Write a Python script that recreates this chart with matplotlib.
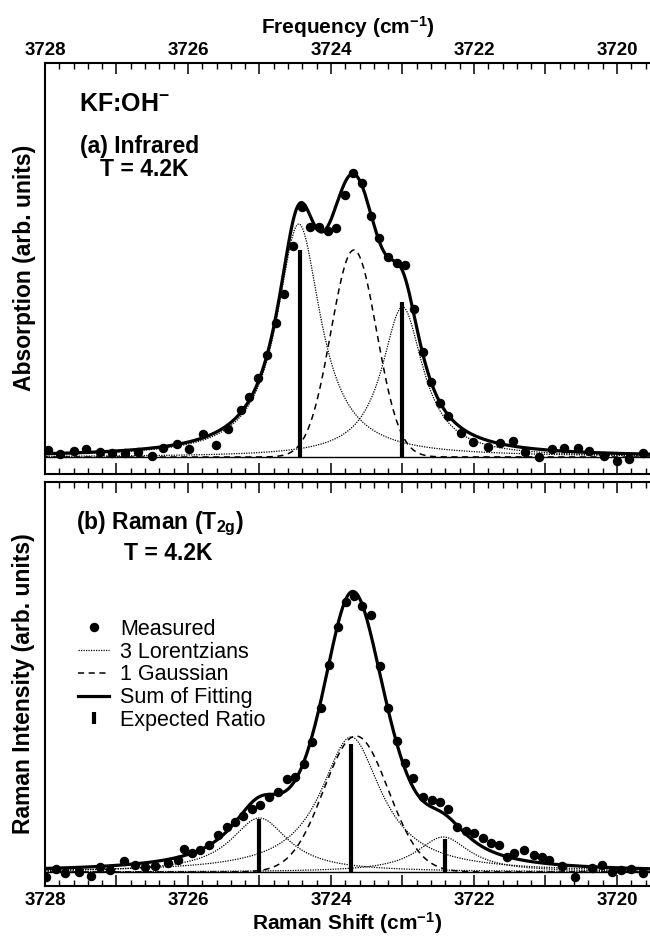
import numpy as np
import matplotlib
matplotlib.use("Agg")
import matplotlib.pyplot as plt
from matplotlib.lines import Line2D
from matplotlib.ticker import MultipleLocator, FuncFormatter

plt.rcParams['font.family'] = ['Liberation Sans', 'DejaVu Sans']
plt.rcParams['mathtext.fontset'] = 'custom'
plt.rcParams['mathtext.rm'] = 'Liberation Sans'
plt.rcParams['mathtext.bf'] = 'Liberation Sans:bold'
plt.rcParams['mathtext.it'] = 'Liberation Sans:italic'

# ---------------- data: (a) infrared ----------------
ir_freq = [3727.962, 3727.787, 3727.596, 3727.422, 3727.236, 3727.063, 3726.881, 3726.699,
           3726.508, 3726.346, 3726.158, 3725.982, 3725.794, 3725.608, 3725.436, 3725.263,
           3725.143, 3725.017, 3724.891, 3724.773, 3724.653, 3724.536, 3724.410, 3724.294,
           3724.164, 3724.046, 3723.930, 3723.804, 3723.688, 3723.562, 3723.445, 3723.329,
           3723.207, 3723.081, 3722.965, 3722.839, 3722.717, 3722.601, 3722.476, 3722.364,
           3722.187, 3722.014, 3721.810, 3721.636, 3721.450, 3721.287, 3721.085, 3720.909,
           3720.741, 3720.545, 3720.392, 3720.186, 3720.000, 3719.825, 3719.636]
ir_abs = [0.07, 0.03, 0.06, 0.08, 0.05, 0.04, 0.04, 0.05,
          0.01, 0.09, 0.13, 0.08, 0.23, 0.12, 0.28, 0.47,
          0.60, 0.79, 1.02, 1.34, 1.63, 2.11, 2.50, 2.30,
          2.30, 2.26, 2.29, 2.62, 2.84, 2.74, 2.41, 2.19,
          2.00, 1.94, 1.92, 1.48, 1.05, 0.75, 0.54, 0.41,
          0.24, 0.15, 0.10, 0.14, 0.16, 0.05, 0.00, 0.08,
          0.09, 0.09, 0.06, 0.01, -0.04, -0.02, 0.04]

ir_lor_center = [3724.45, 3723.00]
ir_lor_height = [2.33, 1.50]
ir_lor_fwhm = [0.75, 0.70]
ir_gau_center = 3723.68
ir_gau_height = 2.07
ir_gau_sigma = 0.32
ir_ratio_pos = [3724.43, 3723.00]
ir_ratio_height = [2.07, 1.55]

# ---------------- data: (b) Raman ----------------
ra_shift = [3727.989, 3727.852, 3727.716, 3727.526, 3727.362, 3727.227, 3727.091, 3726.901,
            3726.737, 3726.601, 3726.462, 3726.280, 3726.140, 3726.057, 3725.948, 3725.839,
            3725.703, 3725.576, 3725.459, 3725.343, 3725.227, 3725.109, 3724.993, 3724.863,
            3724.745, 3724.620, 3724.503, 3724.378, 3724.262, 3724.144, 3724.024, 3723.906,
            3723.790, 3723.678, 3723.562, 3723.441, 3723.315, 3723.199, 3723.081, 3722.965,
            3722.849, 3722.709, 3722.592, 3722.476, 3722.359, 3722.242, 3722.112, 3722.004,
            3721.869, 3721.759, 3721.652, 3721.543, 3721.434, 3721.298, 3721.162, 3721.052,
            3720.944, 3720.769, 3720.590, 3720.345, 3720.210, 3720.074, 3719.937, 3719.801,
            3719.638]
ra_int = [-0.05, 0.03, -0.01, 0.00, -0.04, 0.05, 0.02, 0.11,
          0.07, 0.05, 0.06, 0.09, 0.12, 0.23, 0.19, 0.22,
          0.27, 0.37, 0.45, 0.50, 0.56, 0.63, 0.67, 0.75,
          0.80, 0.93, 0.95, 1.08, 1.30, 1.64, 2.07, 2.45,
          2.70, 2.76, 2.66, 2.57, 2.06, 1.64, 1.31, 1.09,
          0.94, 0.75, 0.72, 0.70, 0.63, 0.45, 0.41, 0.39,
          0.34, 0.29, 0.27, 0.15, 0.19, 0.22, 0.17, 0.15,
          0.12, 0.06, -0.05, 0.04, 0.07, 0.00, 0.02, 0.03,
          -0.01]

ra_lor_center = [3725.00, 3723.72, 3722.43]
ra_lor_height = [0.54, 1.35, 0.35]
ra_lor_fwhm = [0.98, 1.03, 0.90]
ra_gau_center = 3723.65
ra_gau_height = 1.36
ra_gau_sigma = 0.45
ra_ratio_pos = [3725.01, 3723.72, 3722.41]
ra_ratio_height = [0.53, 1.28, 0.33]

x_range = (3728.0, 3719.538)
x_labels = [3728, 3726, 3724, 3722, 3720]


def lorentz(x, c, h, w):
    return h / (1.0 + (2.0 * (x - c) / w) ** 2)


def gauss(x, c, h, s):
    return h * np.exp(-(x - c) ** 2 / (2.0 * s ** 2))


W, H = 650, 936
fig = plt.figure(figsize=(W / 100, H / 100), dpi=100)
ax1 = fig.add_axes([45 / W, 1 - 474 / H, 1 - 45 / W, (474 - 63) / H])
ax2 = fig.add_axes([45 / W, 1 - 886 / H, 1 - 45 / W, (886 - 482) / H])

xs = np.linspace(x_range[1], x_range[0], 1200)
LW_SUM = 2.3


def draw(ax, fx, fy, lc, lh, lw_, gc, gh, gs, rp, rh):
    lors = [lorentz(xs, c, h, w) for c, h, w in zip(lc, lh, lw_)]
    g = gauss(xs, gc, gh, gs)
    ax.axhline(0, color='black', lw=1.0, zorder=1)
    for l in lors:
        ax.plot(xs, l, color='black', lw=0.9, ls=(0, (1, 1)), zorder=2)
    ax.plot(xs, g, color='black', lw=1.1, ls=(0, (4, 3)), zorder=2)
    ax.plot(xs, sum(lors) + g, color='black', lw=LW_SUM, zorder=3)
    ax.vlines(rp, 0, rh, color='black', lw=3.0, zorder=4)
    ax.plot(fx, fy, 'o', color='black', ms=5.8, zorder=5)
    ax.set_xlim(*x_range)
    ax.xaxis.set_major_locator(MultipleLocator(1))
    ax.xaxis.set_minor_locator(MultipleLocator(0.2))
    ax.xaxis.set_major_formatter(FuncFormatter(
        lambda v, p: f"{int(round(v))}" if int(round(v)) in x_labels else ""))
    ax.set_yticks([])
    ax.tick_params(axis='x', which='major', direction='in', length=8, width=1.1,
                   top=True, bottom=True, labelsize=13.5)
    ax.tick_params(axis='x', which='minor', direction='in', length=4.5, width=1.0,
                   top=True, bottom=True)
    for s in ['left', 'top', 'bottom']:
        ax.spines[s].set_linewidth(1.5)
    ax.spines['right'].set_visible(False)


draw(ax1, ir_freq, ir_abs, ir_lor_center, ir_lor_height, ir_lor_fwhm,
     ir_gau_center, ir_gau_height, ir_gau_sigma, ir_ratio_pos, ir_ratio_height)
draw(ax2, ra_shift, ra_int, ra_lor_center, ra_lor_height, ra_lor_fwhm,
     ra_gau_center, ra_gau_height, ra_gau_sigma, ra_ratio_pos, ra_ratio_height)

ax1.set_ylim(-0.17, 3.94)
ax2.set_ylim(-0.14, 3.90)

ax1.tick_params(axis='x', which='both', labeltop=True, labelbottom=False, pad=3)
ax2.tick_params(axis='x', which='both', labeltop=False, labelbottom=True, pad=4)
for ax in (ax1, ax2):
    for lab in ax.get_xticklabels():
        lab.set_fontweight('bold')

fig.text((45 + 650) / 2 / W, 1 - 27 / H, r"Frequency (cm$^{\mathbf{-1}}$)", ha='center',
         va='center', fontsize=15, fontweight='bold')
ax2.set_xlabel(r"Raman Shift (cm$^{\mathbf{-1}}$)", fontsize=15, fontweight='bold', labelpad=1)
fig.text(24 / W, 1 - 268 / H, "Absorption (arb. units)", rotation=90, ha='center',
         va='center', fontsize=16.5, fontweight='bold')
fig.text(24 / W, 1 - 684 / H, "Raman Intensity (arb. units)", rotation=90, ha='center',
         va='center', fontsize=16.5, fontweight='bold')

fig.text(79 / W, 1 - 104 / H, r"KF:OH$^{\mathbf{-}}$", ha='left', va='center',
         fontsize=18, fontweight='bold')
fig.text(80 / W, 1 - 146 / H, "(a) Infrared", ha='left', va='center',
         fontsize=16.5, fontweight='bold')
fig.text(100 / W, 1 - 169 / H, "T = 4.2K", ha='left', va='center',
         fontsize=16.5, fontweight='bold')
fig.text(76 / W, 1 - 524 / H, r"(b) Raman (T$_{\mathbf{2g}}$)", ha='left', va='center',
         fontsize=16.5, fontweight='bold')
fig.text(124 / W, 1 - 553 / H, "T = 4.2K", ha='left', va='center',
         fontsize=16.5, fontweight='bold')

handles = [
    Line2D([], [], ls='none', marker='o', color='black', ms=5.8),
    Line2D([], [], color='black', lw=0.9, ls=(0, (1, 1))),
    Line2D([], [], color='black', lw=1.1, ls=(0, (4, 3))),
    Line2D([], [], color='black', lw=LW_SUM),
    Line2D([], [], ls='none', marker='|', color='black', ms=8, mew=3.0),
]
labels = ["Measured", "3 Lorentzians", "1 Gaussian", "Sum of Fitting", "Expected Ratio"]
ax2.legend(handles, labels, loc='upper left', bbox_to_anchor=(78 / W, 1 - 619 / H),
           bbox_transform=fig.transFigure, frameon=False, fontsize=15.5,
           handlelength=1.44, handletextpad=0.5, labelspacing=0.08, borderpad=0,
           borderaxespad=0)

fig.savefig("out.png", dpi=100)
